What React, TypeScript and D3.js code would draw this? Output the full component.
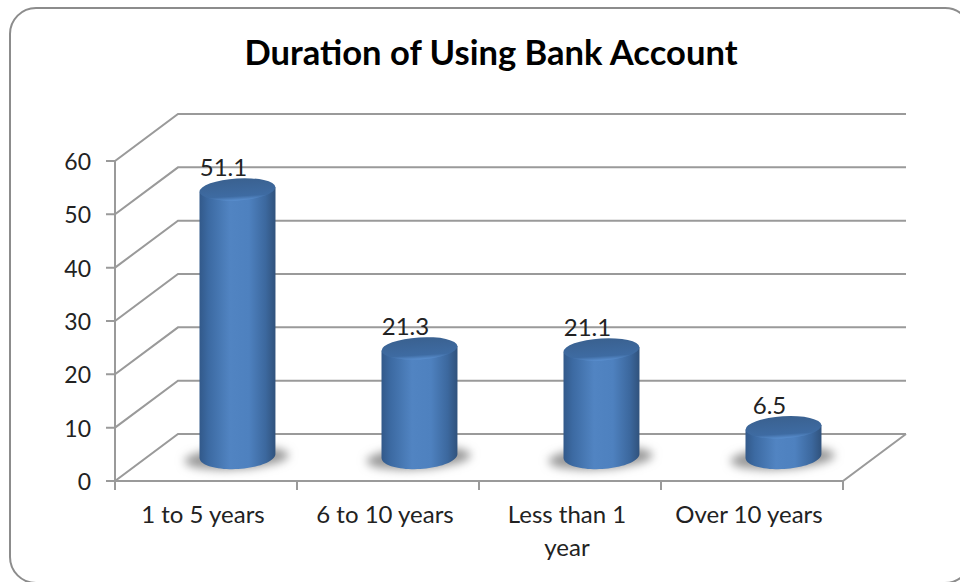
import React from "react";
import * as d3 from "d3";

const categories = ["1 to 5 years", "6 to 10 years", "Less than 1 year", "Over 10 years"];
const categoryLines = [["1 to 5 years"], ["6 to 10 years"], ["Less than 1", "year"], ["Over 10 years"]];
const values = [51.1, 21.3, 21.1, 6.5];
const valueTicks = [0, 10, 20, 30, 40, 50, 60];

const WIDTH = 960;
const HEIGHT = 582;
const DEPTH_X = 63;
const DEPTH_Y = 47;
const AXIS_COLOR = "#9a9a9a";
const TEXT_COLOR = "#222";
const FONT = "Lato, Carlito, sans-serif";

// Front plane of the 3D box; the back wall is this plane shifted by the depth.
const x = d3.scaleBand<string>().domain(categories).range([115, 843]);
const y = d3.scaleLinear().domain([0, 60]).range([481, 161]);
// Cylinders sit midway through the box depth.
const barLevel = d3.scaleLinear().domain([0, 60]).range([462, 142]);

const RX = 38;
const RY = 13;
const TILT = -3.5;
const BASE_Y = 456;

function cylinderSide(cx: number, topY: number): string {
  const path = d3.path();
  const rad = (TILT * Math.PI) / 180;
  const dy = RX * Math.sin(rad);
  path.moveTo(cx - RX, topY - dy);
  path.lineTo(cx - RX, BASE_Y - dy);
  // Lower half of the tilted base ellipse.
  const pts: [number, number][] = d3.range(0, 41).map((i) => {
    const t = Math.PI - (i / 40) * Math.PI;
    const ex = RX * Math.cos(t);
    const ey = RY * Math.sin(t);
    return [cx + ex * Math.cos(rad) - ey * Math.sin(rad), BASE_Y + ex * Math.sin(rad) + ey * Math.cos(rad)];
  });
  pts.forEach((p) => path.lineTo(p[0], p[1]));
  path.lineTo(cx + RX, topY + dy);
  path.closePath();
  return path.toString();
}

export default function App() {
  const band = x.bandwidth();
  return (
    <svg
      width={WIDTH}
      height={HEIGHT}
      viewBox={`0 0 ${WIDTH} ${HEIGHT}`}
      style={{ position: "absolute", left: 0, top: 0, display: "block", background: "#fff" }}
      fontFamily={FONT}
    >
      <defs>
        <linearGradient id="side" x1="0" x2="1" y1="0" y2="0">
          <stop offset="0" stopColor="#32598a" />
          <stop offset="0.12" stopColor="#3c6aa2" />
          <stop offset="0.4" stopColor="#5184c2" />
          <stop offset="0.65" stopColor="#4e81bf" />
          <stop offset="0.87" stopColor="#3c689e" />
          <stop offset="1" stopColor="#30527c" />
        </linearGradient>
        <linearGradient id="cap" x1="0" x2="0" y1="0" y2="1">
          <stop offset="0" stopColor="#3a6190" />
          <stop offset="0.8" stopColor="#3e6ba2" />
          <stop offset="1" stopColor="#5a8fcf" />
        </linearGradient>
        <filter id="shadowBlur" x="-30%" y="-60%" width="160%" height="220%">
          <feGaussianBlur stdDeviation="5" />
        </filter>
      </defs>

      <rect x={10} y={8} width={961} height={575} rx={26} fill="#fff" stroke="#8c8c8c" strokeWidth={2} />

      <text x={491} y={65} textAnchor="middle" fontSize={34} fontWeight={700} fill="#000" textLength={493} lengthAdjust="spacingAndGlyphs">
        Duration of Using Bank Account
      </text>

      {/* Back wall gridlines and their diagonals to the value axis */}
      {valueTicks.map((t) => (
        <polyline
          key={t}
          stroke={AXIS_COLOR}
          strokeWidth={2}
          fill="none"
          points={`${x.range()[0] - 9},${y(t)} ${x.range()[0]},${y(t)} ${x.range()[0] + DEPTH_X},${y(t) - DEPTH_Y} ${x.range()[1] + DEPTH_X},${y(t) - DEPTH_Y}`}
        />
      ))}
      <g stroke={AXIS_COLOR} strokeWidth={2} fill="none">
        <line x1={x.range()[0]} x2={x.range()[0]} y1={y(60)} y2={y(0) + 9} />
        <polyline points={`${x.range()[0]},${y(0)} ${x.range()[1]},${y(0)} ${x.range()[1] + DEPTH_X},${y(0) - DEPTH_Y}`} />
        {categories.map((c) => (
          <line key={c} x1={(x(c) as number) + band} x2={(x(c) as number) + band} y1={y(0)} y2={y(0) + 9} />
        ))}
      </g>

      {valueTicks.map((t) => (
        <text key={t} x={91} y={y(t) + 9} textAnchor="end" fontSize={23} fill={TEXT_COLOR}>
          {t}
        </text>
      ))}

      {/* Cylinders with floor shadows */}
      {categories.map((c, i) => {
        const cx = (x(c) as number) + band / 2 + DEPTH_X / 2;
        const topY = barLevel(values[i]);
        return (
          <g key={c}>
            <ellipse
              cx={cx - 1}
              cy={BASE_Y + 2}
              rx={52}
              ry={11}
              fill="#969696"
              filter="url(#shadowBlur)"
              transform={`rotate(${TILT} ${cx} ${BASE_Y})`}
            />
            <path d={cylinderSide(cx, topY)} fill="url(#side)" />
            <ellipse cx={cx} cy={topY} rx={RX} ry={RY - 2} fill="url(#cap)" transform={`rotate(${TILT} ${cx} ${topY})`} />
            <text x={cx - 14} y={topY - 13} textAnchor="middle" fontSize={24} fill={TEXT_COLOR}>
              {values[i]}
            </text>
          </g>
        );
      })}

      {categories.map((c, i) => (
        <text key={c} textAnchor="middle" fontSize={24} fill={TEXT_COLOR}>
          {categoryLines[i].map((line, j) => (
            <tspan key={line} x={(x(c) as number) + band / 2 - 3} y={523 + j * 33}>
              {line}
            </tspan>
          ))}
        </text>
      ))}
    </svg>
  );
}
